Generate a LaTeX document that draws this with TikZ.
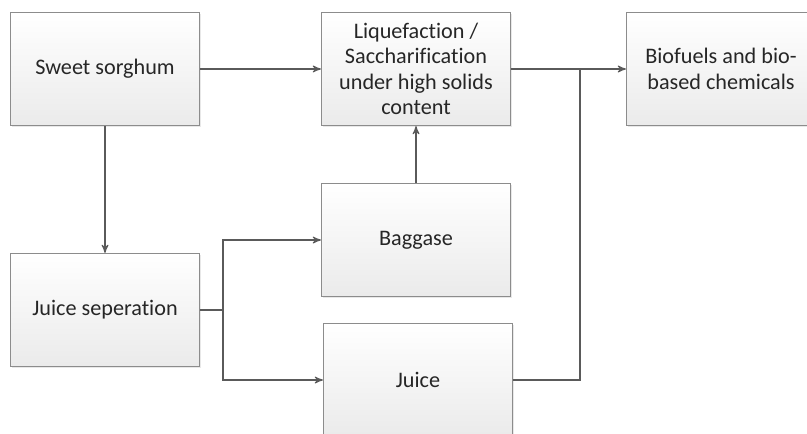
\documentclass[tikz,border=0pt]{standalone}
\usepackage{fontspec}
\setmainfont[Ligatures=NoCommon]{Carlito}
\usetikzlibrary{arrows,shadows}
\definecolor{boxline}{HTML}{8C8C8C}
\definecolor{flowline}{HTML}{5A5A5A}
\tikzstyle{stage} = [rectangle, draw=boxline, top color=white, bottom color=gray!16,
    minimum width=94.5pt, minimum height=56.5pt, align=center, line width=0.6pt,
    drop shadow={opacity=0.18, shadow xshift=0.8pt, shadow yshift=-0.8pt},
    font=\fontsize{11.1}{12.7}\selectfont, text=black!85]

\begin{document}
\begin{tikzpicture}[->,>=stealth',x=0.5pt,y=-0.5pt,line width=0.55pt,draw=flowline]
  \useasboundingbox (0,0) rectangle (807,433);

  \node[stage] (sorghum)  at (105,69)  {Sweet sorghum};
  \node[stage] (liq)      at (416,69)  {Liquefaction /\\Saccharification\\under high solids\\content};
  \node[stage] (bio)      at (721,69)  {Biofuels and bio-\\based chemicals};
  \node[stage] (juicesep) at (105,310) {Juice seperation};
  \node[stage] (bag)      at (416,240) {Baggase};
  \node[stage] (juice)    at (418,380) {Juice};

  \coordinate (split) at (223,310);
  \coordinate (merge) at (580,69);

  \draw (sorghum) -- (liq);
  \draw (sorghum) -- (juicesep);
  \draw (bag) -- (liq);
  \draw[-] (juicesep) -- (split);
  \draw (split) |- (bag);
  \draw (split) |- (juice);
  \draw[-] (juice) -| (merge);
  \draw (liq) -- (bio);
\end{tikzpicture}
\end{document}
